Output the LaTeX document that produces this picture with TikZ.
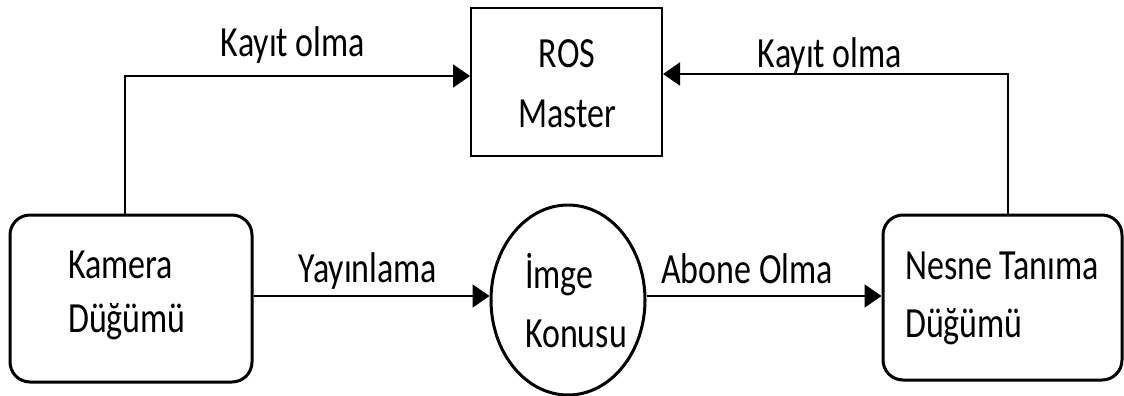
\documentclass[tikz,border=0pt]{standalone}
\usepackage{fontspec}
\setmainfont[FakeStretch=0.79]{Carlito}
\usetikzlibrary{arrows.meta,shapes.geometric}

\tikzset{
  nodebox/.style={draw, line width=3pt, rounded corners=20pt, inner sep=0pt},
  masterbox/.style={draw, line width=2pt, inner sep=0pt},
  topicshape/.style={draw, ellipse, line width=3pt, inner sep=0pt},
  txt/.style={inner sep=0pt, font=\fontsize{43}{50}\selectfont},
  conn/.style={line width=2pt, -{Triangle[length=17pt,width=23pt]}},
}

\begin{document}
\begin{tikzpicture}[x=1pt,y=-1pt]
  \useasboundingbox (0,0) rectangle (1124,396);

  % main shapes
  \node[nodebox, minimum width=242pt, minimum height=167pt] (kam) at (131,298.5) {};
  \node[masterbox, minimum width=191pt, minimum height=148pt] (ros) at (566.5,82) {};
  \node[topicshape, minimum width=154pt, minimum height=190pt] (img) at (568,300) {};
  \node[nodebox, minimum width=239pt, minimum height=165pt] (nes) at (1002.5,297.5) {};

  % texts inside the shapes
  \node[txt, anchor=base west] (kam1) at (68,278) {Kamera};
  \node[txt, anchor=base west] (kam2) at (68,332) {Düğümü};
  \node[txt, anchor=base] (ros1) at (567,67) {ROS};
  \node[txt, anchor=base] (ros2) at (567,127) {Master};
  \node[txt, anchor=base west] (img1) at (525,288) {İmge};
  \node[txt, anchor=base west] (img2) at (525,347) {Konusu};
  \node[txt, anchor=base west] (nes1) at (905,279) {Nesne Tanıma};
  \node[txt, anchor=base west] (nes2) at (905,337) {Düğümü};

  % connector labels
  \node[txt, anchor=base] (lbl1) at (293,57) {Kayıt olma};
  \node[txt, anchor=base] (lbl2) at (830,67) {Kayıt olma};
  \node[txt, anchor=base] (lbl3) at (368,282) {Yayınlama};
  \node[txt, anchor=base] (lbl4) at (747,283) {Abone Olma};

  % registration with the master
  \draw[conn] ([xshift=-6pt]kam.north) |- ([yshift=6pt]ros.west);
  \draw[conn] ([xshift=5.5pt]nes.north) |- ([yshift=8pt]ros.east);

  % publish / subscribe
  \draw[conn] (kam.east |- 0,296) -- (img.west |- 0,296);
  \draw[conn] (img.east |- 0,296) -- (nes.west |- 0,296);
\end{tikzpicture}
\end{document}
